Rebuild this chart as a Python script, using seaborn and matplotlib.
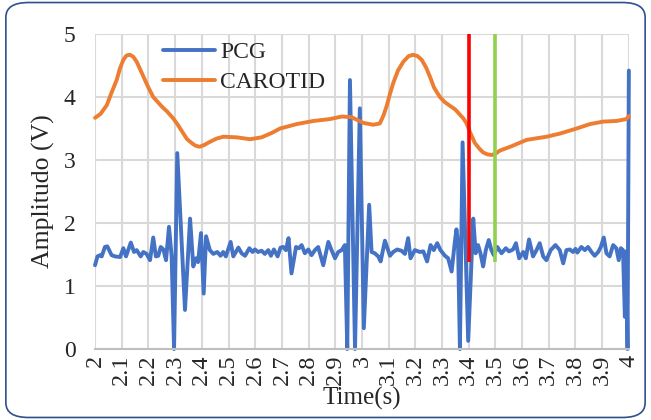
import pandas as pd
import matplotlib.pyplot as plt
from matplotlib.patches import FancyBboxPatch
import seaborn as sns

# PCG signal (time in s, amplitude in V)
pcg_time = [2.000, 2.009, 2.019, 2.025, 2.037, 2.046, 2.062, 2.075, 2.094, 2.106,
            2.116, 2.134, 2.146, 2.156, 2.171, 2.181, 2.193, 2.206, 2.218, 2.228,
            2.237, 2.246, 2.256, 2.266, 2.277, 2.287, 2.296, 2.308, 2.337, 2.356,
            2.368, 2.378, 2.386, 2.397, 2.407, 2.416, 2.430, 2.443, 2.458, 2.470,
            2.480, 2.490, 2.508, 2.518, 2.537, 2.549, 2.562, 2.578, 2.590, 2.599,
            2.611, 2.624, 2.636, 2.649, 2.659, 2.670, 2.684, 2.695, 2.705, 2.715,
            2.725, 2.736, 2.753, 2.764, 2.774, 2.786, 2.799, 2.811, 2.824, 2.836,
            2.855, 2.874, 2.886, 2.899, 2.911, 2.924, 2.936, 2.945, 2.955, 2.974,
            2.992, 3.007, 3.027, 3.036, 3.048, 3.061, 3.070, 3.086, 3.105, 3.117,
            3.132, 3.148, 3.161, 3.173, 3.182, 3.198, 3.217, 3.230, 3.244, 3.257,
            3.269, 3.282, 3.294, 3.311, 3.323, 3.336, 3.348, 3.354, 3.360, 3.367,
            3.377, 3.398, 3.417, 3.426, 3.435, 3.444, 3.454, 3.464, 3.475, 3.485,
            3.494, 3.507, 3.523, 3.539, 3.551, 3.566, 3.577, 3.589, 3.604, 3.614,
            3.626, 3.641, 3.654, 3.666, 3.679, 3.691, 3.707, 3.725, 3.741, 3.754,
            3.766, 3.779, 3.791, 3.800, 3.807, 3.822, 3.835, 3.847, 3.860, 3.872,
            3.885, 3.895, 3.906, 3.916, 3.928, 3.941, 3.953, 3.962, 3.970, 3.978,
            3.985, 3.990, 3.995, 4.000]
pcg_volt = [1.33, 1.47, 1.49, 1.47, 1.62, 1.63, 1.49, 1.47, 1.46, 1.60,
            1.47, 1.69, 1.54, 1.57, 1.47, 1.54, 1.51, 1.41, 1.77, 1.47,
            1.48, 1.62, 1.58, 1.41, 1.94, 1.47, 0.00, 3.11, 0.62, 2.07,
            1.31, 1.44, 1.38, 1.84, 0.88, 1.79, 1.57, 1.51, 1.54, 1.48,
            1.54, 1.47, 1.70, 1.47, 1.61, 1.52, 1.48, 1.60, 1.54, 1.58,
            1.54, 1.56, 1.51, 1.57, 1.48, 1.58, 1.47, 1.61, 1.62, 1.57,
            1.76, 1.20, 1.62, 1.60, 1.65, 1.52, 1.58, 1.49, 1.57, 1.62,
            1.33, 1.70, 1.57, 1.44, 1.54, 1.57, 1.65, 0.00, 4.27, 0.00,
            3.82, 0.33, 2.29, 1.54, 1.52, 1.47, 1.39, 1.72, 1.48, 1.54,
            1.58, 1.56, 1.51, 1.76, 1.44, 1.57, 1.54, 1.55, 1.39, 1.65,
            1.57, 1.68, 1.57, 1.48, 1.44, 1.23, 1.70, 1.90, 1.68, 0.00,
            3.28, 0.13, 2.07, 1.52, 1.65, 1.52, 1.31, 1.57, 1.73, 1.57,
            1.49, 1.62, 1.52, 1.60, 1.55, 1.58, 1.68, 1.44, 1.54, 1.44,
            1.74, 1.47, 1.57, 1.68, 1.47, 1.41, 1.57, 1.65, 1.57, 1.36,
            1.57, 1.58, 1.54, 1.59, 1.53, 1.62, 1.57, 1.62, 1.54, 1.48,
            1.54, 1.62, 1.77, 1.52, 1.47, 1.65, 1.60, 1.41, 1.60, 1.57,
            0.51, 1.55, 0.00, 4.42]

# Carotid pulse
car_time = [2.000, 2.020, 2.044, 2.060, 2.081, 2.093, 2.106, 2.118, 2.131, 2.143,
            2.156, 2.170, 2.187, 2.200, 2.218, 2.235, 2.250, 2.270, 2.293, 2.310,
            2.331, 2.345, 2.362, 2.375, 2.391, 2.410, 2.431, 2.455, 2.481, 2.531,
            2.581, 2.624, 2.662, 2.693, 2.755, 2.818, 2.880, 2.924, 2.961, 3.005,
            3.042, 3.067, 3.080, 3.092, 3.105, 3.117, 3.135, 3.155, 3.175, 3.192,
            3.208, 3.224, 3.240, 3.255, 3.270, 3.292, 3.310, 3.330, 3.350, 3.367,
            3.380, 3.392, 3.405, 3.423, 3.440, 3.454, 3.470, 3.486, 3.500, 3.517,
            3.561, 3.617, 3.692, 3.742, 3.804, 3.854, 3.904, 3.954, 3.991, 4.000]
car_volt = [3.67, 3.73, 3.87, 4.05, 4.27, 4.45, 4.59, 4.66, 4.67, 4.64,
            4.56, 4.43, 4.27, 4.15, 4.00, 3.92, 3.85, 3.77, 3.66, 3.56,
            3.42, 3.33, 3.27, 3.23, 3.21, 3.24, 3.29, 3.34, 3.37, 3.36,
            3.33, 3.36, 3.43, 3.50, 3.57, 3.62, 3.65, 3.69, 3.68, 3.59,
            3.56, 3.58, 3.70, 3.85, 4.05, 4.22, 4.42, 4.56, 4.65, 4.67,
            4.65, 4.59, 4.47, 4.32, 4.15, 4.00, 3.92, 3.86, 3.80, 3.72,
            3.66, 3.58, 3.44, 3.27, 3.18, 3.12, 3.09, 3.08, 3.10, 3.15,
            3.22, 3.32, 3.37, 3.42, 3.50, 3.57, 3.61, 3.62, 3.65, 3.70]

# marker lines
marker_times = [3.4, 3.5]
marker_low, marker_high = 1.38, 5.0
marker_colors = ['#FF0000', '#92D050']

x_ticks = [2.0, 2.1, 2.2, 2.3, 2.4, 2.5, 2.6, 2.7, 2.8, 2.9, 3.0,
           3.1, 3.2, 3.3, 3.4, 3.5, 3.6, 3.7, 3.8, 3.9, 4.0]
x_tick_labels = ['2', '2.1', '2.2', '2.3', '2.4', '2.5', '2.6', '2.7', '2.8', '2.9', '3',
                 '3.1', '3.2', '3.3', '3.4', '3.5', '3.6', '3.7', '3.8', '3.9', '4']
y_ticks = [0, 1, 2, 3, 4, 5]

sns.set_style('white')
plt.rcParams['font.family'] = ['Liberation Serif', 'DejaVu Serif']

pcg = pd.DataFrame({'Time': pcg_time, 'Volt': pcg_volt})
car = pd.DataFrame({'Time': car_time, 'Volt': car_volt})

fig = plt.figure(figsize=(6.51, 4.2), dpi=100)
ax = fig.add_axes([0.146, 0.169, 0.820, 0.750])

line_kw = dict(linewidth=2.8, estimator=None, sort=False, ax=ax)
sns.lineplot(x='Time', y='Volt', data=pcg, color='#4472C4', label='PCG', **line_kw)
sns.lineplot(x='Time', y='Volt', data=car, color='#ED7D31', label='CAROTID', **line_kw)
for ln in ax.lines:
    ln.set_solid_capstyle('round')
    ln.set_solid_joinstyle('round')
    ln.set_clip_on(False)

for t, c in zip(marker_times, marker_colors):
    ax.vlines(t, marker_low, marker_high, color=c, linewidth=2.6, zorder=3)

ax.set_xlim(2, 4)
ax.set_ylim(0, 5)
ax.set_xticks(x_ticks)
ax.set_xticklabels(x_tick_labels, rotation=90, fontsize=17.5)
ax.set_yticks(y_ticks)
ax.set_yticklabels([str(v) for v in y_ticks], fontsize=17)
ax.tick_params(length=0, pad=14)
ax.tick_params(axis='x', pad=4)
ax.grid(True, color='#D9D9D9', linewidth=1.5)
ax.set_axisbelow(True)
for side in ['left', 'right', 'top']:
    ax.spines[side].set_visible(False)
ax.spines['bottom'].set_color('#BFBFBF')
ax.spines['bottom'].set_linewidth(1.5)

ax.set_xlabel('Time(s)', fontsize=18, labelpad=1)
ax.set_ylabel('Amplitudo (V)', fontsize=18.5, labelpad=6)

ax.legend(loc='upper left', bbox_to_anchor=(0.11, 1.005), frameon=False,
          fontsize=17, handlelength=2.2, handletextpad=0.2, labelspacing=0.35,
          borderaxespad=0)

border = FancyBboxPatch((0.009, 0.006), 0.982, 0.988,
                        boxstyle='round,pad=0,rounding_size=0.035',
                        transform=fig.transFigure, fill=False,
                        edgecolor='#2F4F8F', linewidth=1.2)
fig.patches.append(border)

fig.savefig('out.png', dpi=100)
plt.close()
